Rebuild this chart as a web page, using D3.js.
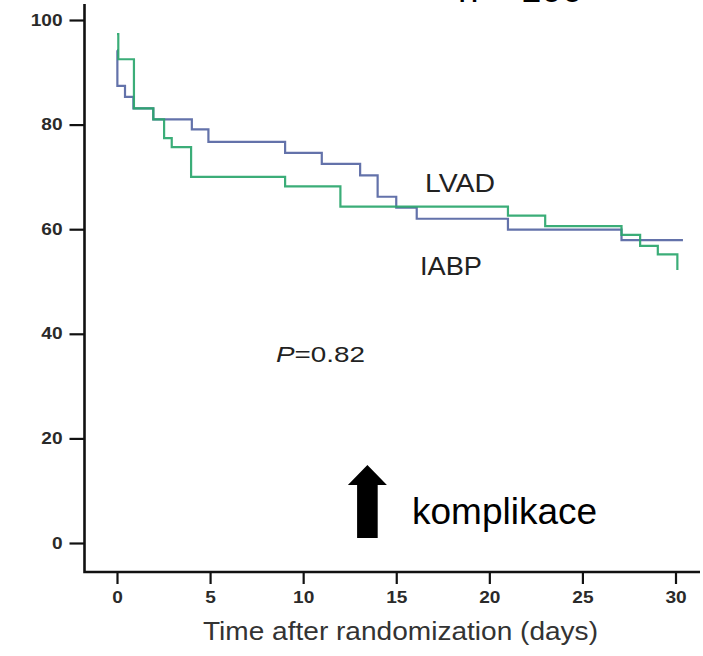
<!DOCTYPE html>
<html>
<head>
<meta charset="utf-8">
<script src="https://cdn.jsdelivr.net/npm/d3@7"></script>
<style>
  body { margin: 0; background: #fff; }
  svg { display: block; font-family: "Liberation Sans", Arial, sans-serif; }
</style>
</head>
<body>
<div id="KM_CHART"></div>
<script>
// survival curves (days, % surviving)
var lvadDays   = [0, 0.02, 0.43, 0.88, 1.95, 4.02, 4.91, 9.03, 11.0, 13.06, 14.0, 15.0, 16.1, 21.0, 27.1, 30.4];
var lvadSurv   = [94.2, 87.4, 85.3, 83.1, 81.0, 79.1, 76.7, 74.6, 72.5, 70.3, 66.2, 64.1, 62.0, 59.9, 57.9, 57.9];
var iabpDays   = [0, 0.07, 0.91, 1.95, 2.53, 2.94, 3.98, 9.03, 12.0, 21.0, 23.0, 27.1, 28.1, 29.05, 30.1];
var iabpSurv   = [97.3, 92.5, 83.1, 81.0, 77.4, 75.7, 70.0, 68.2, 64.3, 62.6, 60.6, 58.9, 56.8, 55.2, 52.2];

var xTicks = [0, 5, 10, 15, 20, 25, 30];
var yTicks = [0, 20, 40, 60, 80, 100];

var WIDTH = 703, HEIGHT = 656;

var svg = d3.select("#KM_CHART")
    .append("svg")
    .attr("width", WIDTH)
    .attr("height", HEIGHT);

var x = d3.scaleLinear().domain([0, 30]).range([117, 675.5]);
var y = d3.scaleLinear().domain([0, 100]).range([543, 20]);

// axes
svg.append("g")
    .attr("transform", "translate(84.5,0)")
    .call(d3.axisLeft(y).tickValues(yTicks).tickSize(15).tickPadding(7));
svg.append("g")
    .attr("transform", "translate(0,572)")
    .call(d3.axisBottom(x).tickValues(xTicks).tickSize(12).tickPadding(8));

svg.selectAll(".domain").remove();
svg.selectAll(".tick line").attr("stroke", "#111").attr("stroke-width", 2.2);
// the scanned labels are wide and short, so stretch them a little
svg.selectAll(".tick text")
    .attr("fill", "#2a2a2a")
    .attr("textLength", function(d) { return String(d).length * 10.6; })
    .attr("lengthAdjust", "spacingAndGlyphs")
    .style("font-size", "16px")
    .style("font-weight", "bold")
    .style("font-family", "'Liberation Sans', Arial, sans-serif");

// axis lines (L shape)
svg.append("path")
    .attr("d", "M84.5,4V572H700")
    .attr("fill", "none")
    .attr("stroke", "#111")
    .attr("stroke-width", 2.6);

// step curves
var line = d3.line()
    .x(function(d) { return x(d[0]); })
    .y(function(d) { return y(d[1]); })
    .curve(d3.curveStepAfter);

svg.append("path")
    .datum(d3.zip(lvadDays, lvadSurv))
    .attr("d", line)
    .attr("fill", "none")
    .attr("stroke", "#6372aa")
    .attr("stroke-width", 2.2);

svg.append("path")
    .datum(d3.zip(iabpDays, iabpSurv))
    .attr("d", line)
    .attr("fill", "none")
    .attr("stroke", "#2aa66d")
    .attr("stroke-width", 2.2)
    .style("opacity", 0.92);

// labels
svg.append("text")
    .attr("x", 425).attr("y", 192)
    .attr("textLength", 70).attr("lengthAdjust", "spacingAndGlyphs")
    .style("font-size", "26px").attr("fill", "#222")
    .text("LVAD");

svg.append("text")
    .attr("x", 420).attr("y", 275)
    .attr("textLength", 62).attr("lengthAdjust", "spacingAndGlyphs")
    .style("font-size", "26px").attr("fill", "#222")
    .text("IABP");

var pText = svg.append("text")
    .attr("x", 276).attr("y", 362)
    .attr("textLength", 89).attr("lengthAdjust", "spacingAndGlyphs")
    .style("font-size", "22px").attr("fill", "#222");
pText.append("tspan").style("font-style", "italic").text("P");
pText.append("tspan").text("=0.82");

svg.append("text")
    .attr("x", 203).attr("y", 640)
    .attr("textLength", 395).attr("lengthAdjust", "spacingAndGlyphs")
    .style("font-size", "25px").attr("fill", "#333")
    .text("Time after randomization (days)");

// title cut off at the top of the picture, as in the source
svg.append("text")
    .attr("x", 458).attr("y", 2)
    .style("font-size", "37px").attr("fill", "#000")
    .text("n = 100");

// annotation arrow + text
var ax = x(13.45), aTop = y(14.9), aBot = y(0.95);
svg.append("path")
    .attr("d", "M" + ax + "," + aTop +
               "L" + (ax + 19.5) + "," + (aTop + 20) +
               "L" + (ax + 10.3) + "," + (aTop + 20) +
               "L" + (ax + 10.3) + "," + aBot +
               "L" + (ax - 10.3) + "," + aBot +
               "L" + (ax - 10.3) + "," + (aTop + 20) +
               "L" + (ax - 19.5) + "," + (aTop + 20) + "Z")
    .attr("fill", "#000");

svg.append("text")
    .attr("x", 412).attr("y", 524)
    .style("font-size", "37px").attr("fill", "#000")
    .text("komplikace");
</script>
</body>
</html>
